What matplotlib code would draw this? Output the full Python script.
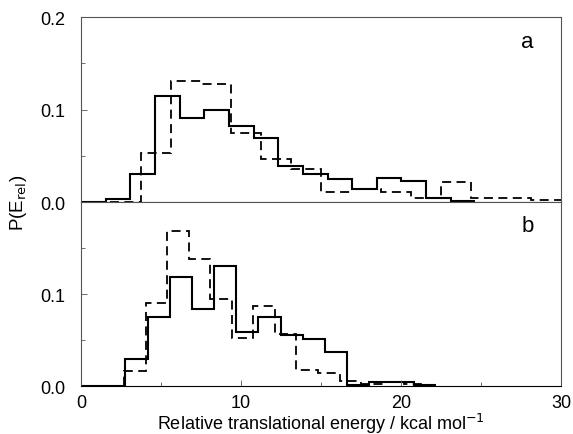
import matplotlib
matplotlib.use("Agg")
import matplotlib.pyplot as plt
from matplotlib.ticker import MultipleLocator, FormatStrFormatter

# ---- data ----
# Panel a
a_solid_edges = [0, 1.54, 3.08, 4.62, 6.16, 7.70, 9.24, 10.78, 12.32, 13.86,
                 15.40, 16.94, 18.48, 20.02, 21.56, 23.10, 24.64]
a_solid_vals = [0.0, 0.003, 0.030, 0.115, 0.091, 0.099, 0.082, 0.069, 0.039,
                0.030, 0.025, 0.014, 0.026, 0.0225, 0.0045, 0.001]
a_dash_edges = [0, 1.875, 3.75, 5.625, 7.5, 9.375, 11.25, 13.125, 15.0, 16.875,
                18.75, 20.625, 22.5, 24.375, 26.25, 28.125, 30.0]
a_dash_vals = [0.0, 0.0, 0.053, 0.131, 0.128, 0.075, 0.046, 0.036, 0.0106,
               0.0146, 0.011, 0.0038, 0.022, 0.0045, 0.0045, 0.002]
# Panel b
b_solid_edges = [0, 1.385, 2.77, 4.155, 5.54, 6.925, 8.31, 9.695, 11.08, 12.465,
                 13.85, 15.235, 16.62, 18.0, 19.39, 20.775, 22.16]
b_solid_vals = [0.0, 0.0, 0.029, 0.075, 0.118, 0.084, 0.130, 0.059, 0.075, 0.055,
                0.051, 0.0375, 0.001, 0.004, 0.004, 0.001]
b_dash_edges = [0, 1.346, 2.69, 4.04, 5.38, 6.73, 8.08, 9.42, 10.77, 12.11,
                13.46, 14.81, 16.15, 17.5, 18.85, 20.19, 21.54]
b_dash_vals = [0.0, 0.0, 0.016, 0.090, 0.169, 0.138, 0.095, 0.052, 0.087, 0.057,
               0.017, 0.014, 0.005, 0.002, 0.004, 0.002]

panel_labels = ["a", "b"]
x_ticks = [0, 10, 20, 30]

plt.rcParams['font.family'] = ['Liberation Sans', 'DejaVu Sans']

fig = plt.figure(figsize=(5.73, 4.35), dpi=100)
left, width = 0.1414, 0.838
ax_a = fig.add_axes([left, 0.5333, width, 0.9586 - 0.5333])
ax_b = fig.add_axes([left, 0.1103, width, 0.5333 - 0.1103])

spine_col = "#555555"
for ax, (se, sv, de, dv), lab in zip(
        [ax_a, ax_b],
        [(a_solid_edges, a_solid_vals, a_dash_edges, a_dash_vals),
         (b_solid_edges, b_solid_vals, b_dash_edges, b_dash_vals)],
        panel_labels):
    ax.stairs(sv, se, baseline=None, color="black", lw=1.5)
    ax.stairs(dv, de, baseline=None, color="black", lw=1.3,
              linestyle=(0, (5, 3)))
    ax.set_xlim(0, 30)
    ax.set_ylim(0, 0.2)
    ax.yaxis.set_major_locator(MultipleLocator(0.1))
    ax.yaxis.set_minor_locator(MultipleLocator(0.05))
    ax.yaxis.set_major_formatter(FormatStrFormatter('%.1f'))
    ax.set_xticks(x_ticks)
    ax.xaxis.set_minor_locator(MultipleLocator(5))
    ax.tick_params(which='both', direction='in', labelsize=13,
                   color=spine_col, width=0.6)
    ax.tick_params(axis='y', which='major', length=4, pad=11)
    ax.tick_params(axis='x', which='major', length=4, pad=6)
    ax.tick_params(which='minor', length=3)
    for s in ax.spines.values():
        s.set_color(spine_col)
        s.set_linewidth(0.8)
    ax.text(0.93, 0.87, lab, transform=ax.transAxes, fontsize=16,
            ha='center', va='center')

ax_a.tick_params(axis='x', which='both', bottom=False, labelbottom=False)
ax_b.set_yticks([0.0, 0.1])
ax_b.spines['bottom'].set_color('black')
ax_a.spines['bottom'].set_color('#333333')

ax_b.set_xlabel("Relative translational energy / kcal mol$^{-1}$",
                fontsize=13, labelpad=0)
fig.text(0.033, 0.5333, "P(E$_{\\mathrm{rel}}$)", rotation=90, fontsize=13.5,
         ha='center', va='center')

fig.savefig("out.png", dpi=100)
